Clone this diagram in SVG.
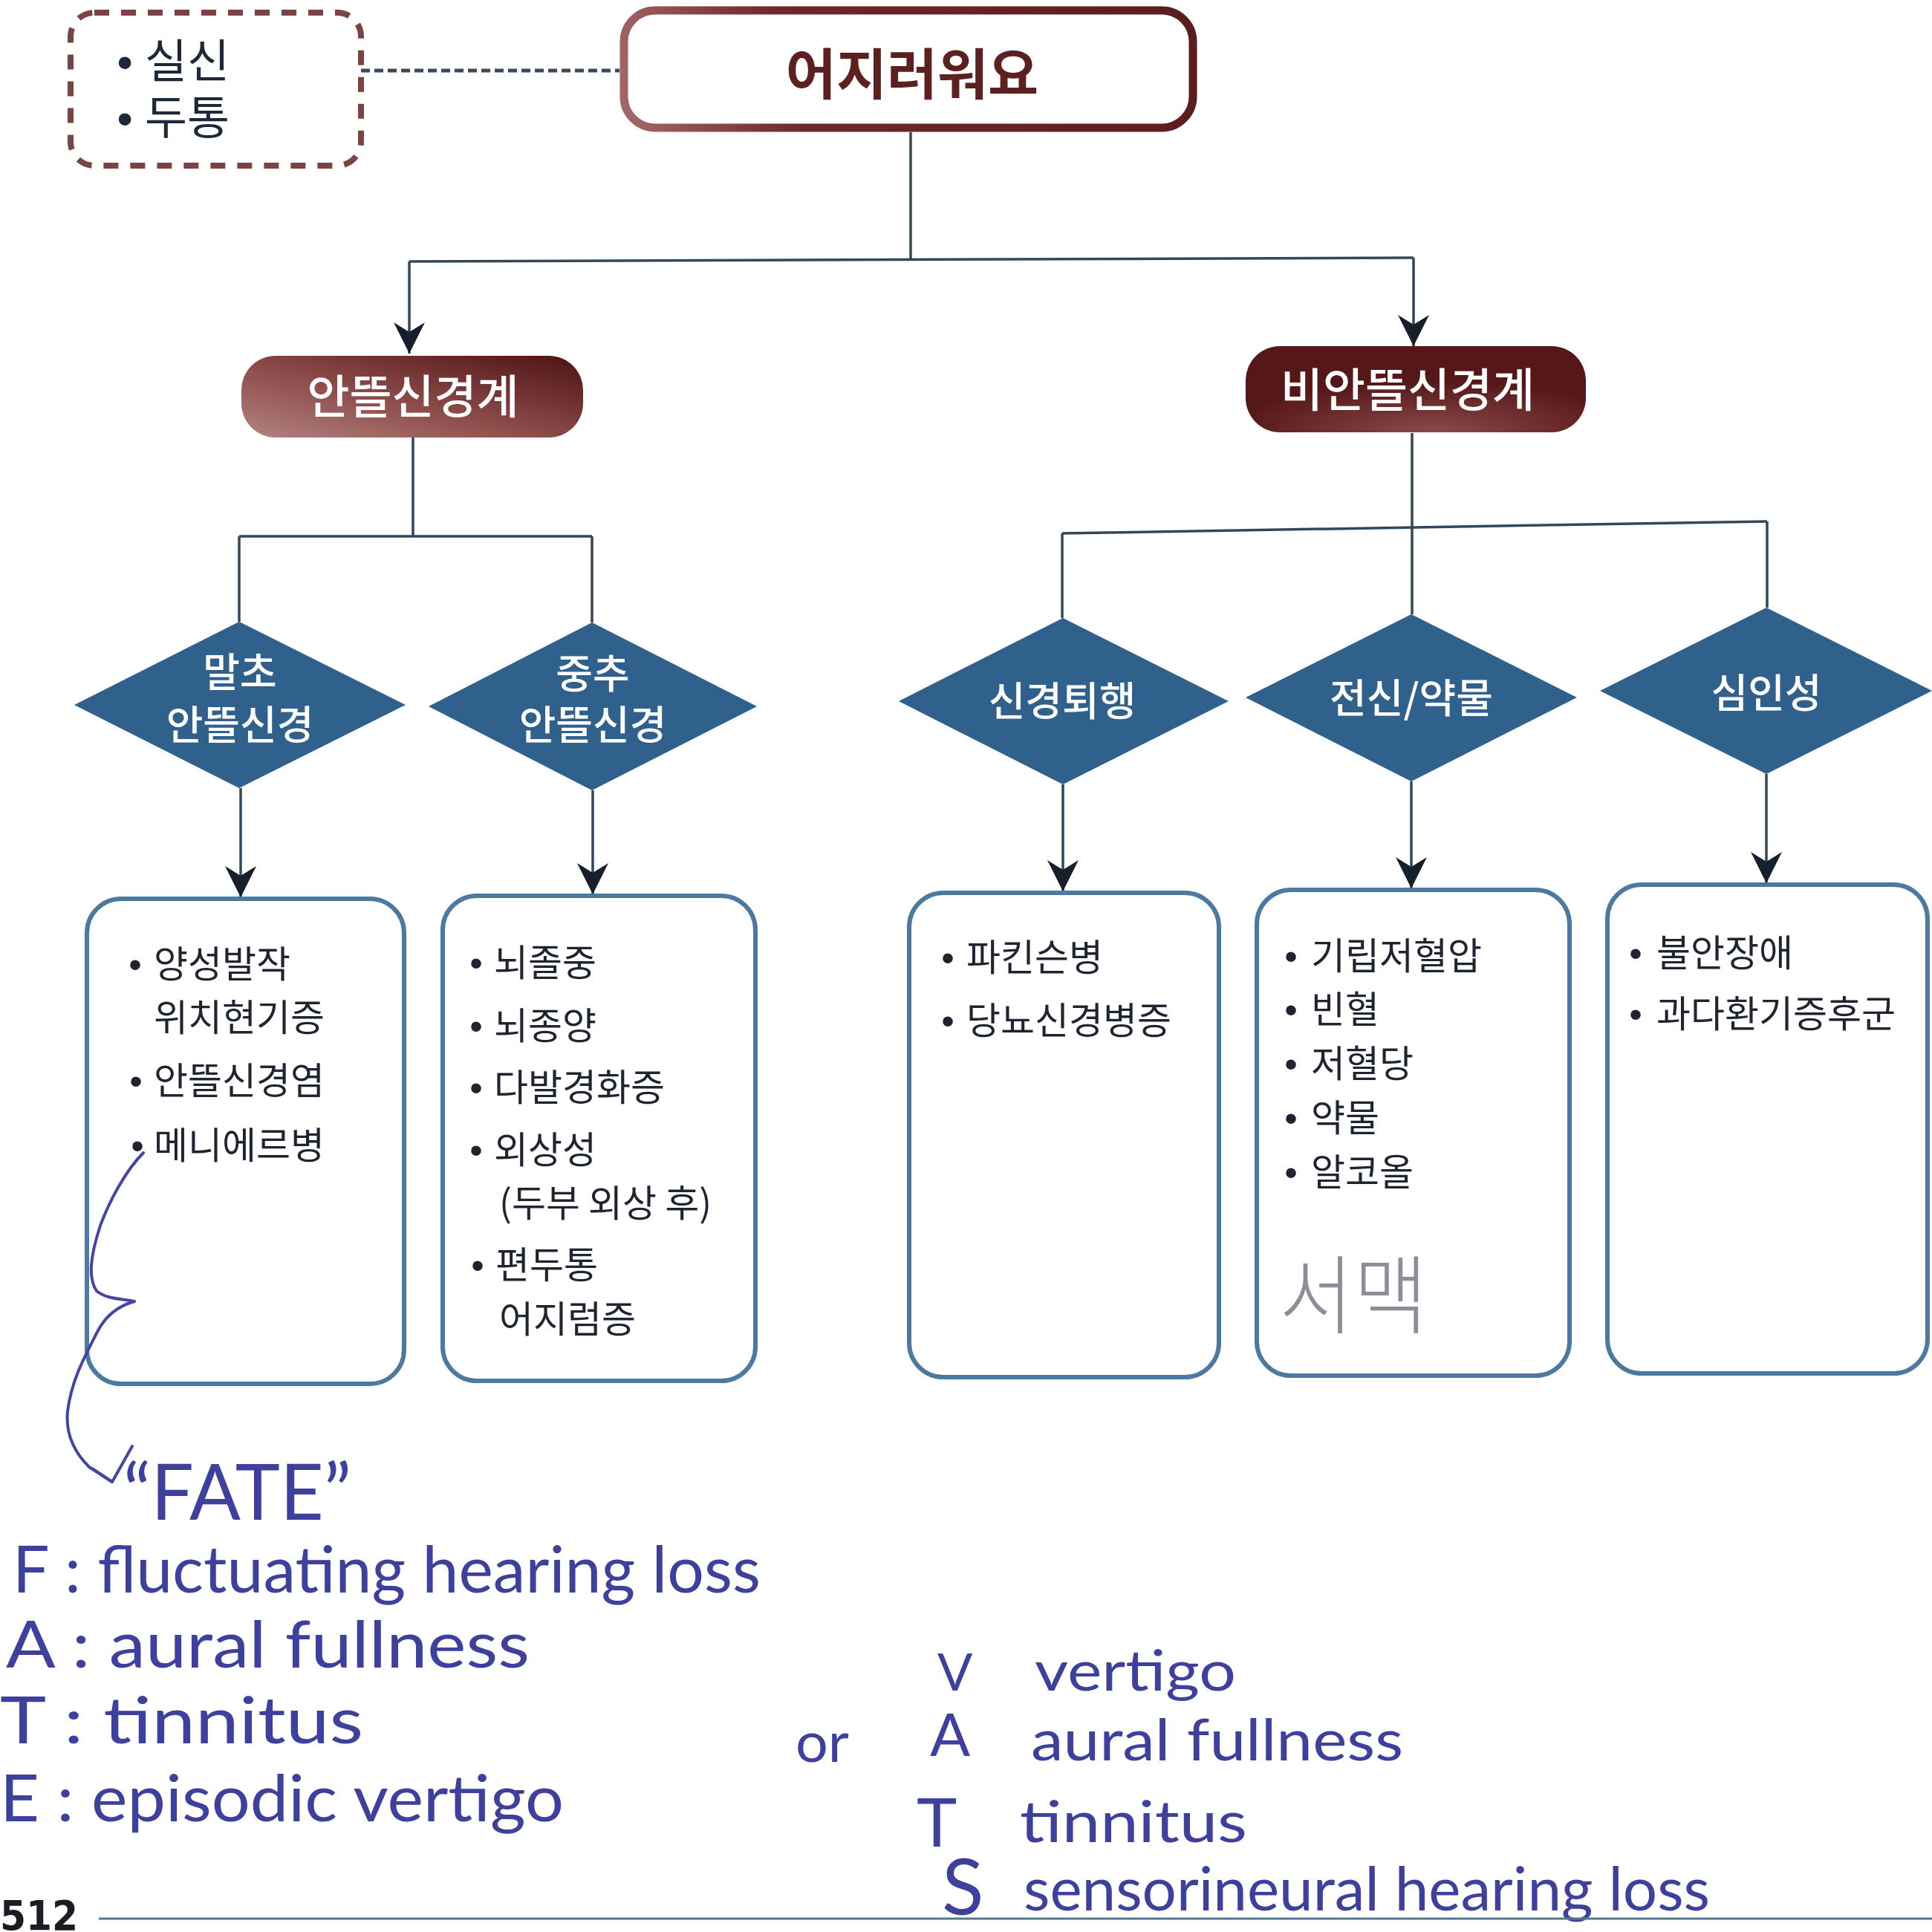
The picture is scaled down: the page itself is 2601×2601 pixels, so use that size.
<svg xmlns="http://www.w3.org/2000/svg" width="2601" height="2601" viewBox="0 0 2601 2601">
<defs>
<style>
.kr{font-family:"Noto Sans CJK KR","Noto Sans",sans-serif;}
.lbl{font-family:"Noto Sans CJK KR","Noto Sans",sans-serif;font-size:50px;fill:#1f2530;}
.bul{font-family:"Liberation Sans",sans-serif;}
.dia{fill:#2f618c;}
.dtx{font-family:"Noto Sans CJK KR","Noto Sans",sans-serif;font-size:54px;font-weight:500;fill:#ffffff;text-anchor:middle;}
.box{fill:#ffffff;stroke:#4b79a0;stroke-width:6;}
.con{fill:none;stroke:#33475a;stroke-width:3.5;}
.hw{font-family:"Lato","Open Sans",sans-serif;fill:#3d409c;}
.ink{fill:none;stroke:#4346a3;stroke-width:4;stroke-linecap:round;stroke-linejoin:round;}
</style>
<marker id="ah" markerUnits="userSpaceOnUse" viewBox="0 0 44 44" markerWidth="44" markerHeight="44" refX="42" refY="22" orient="auto">
<path d="M0,1 L42,22 L0,43 L13,22 Z" fill="#16202c"/>
</marker>
<linearGradient id="gMain" gradientUnits="userSpaceOnUse" x1="834" y1="178" x2="1611" y2="8">
<stop offset="0" stop-color="#a66a6a"/>
<stop offset="0.3" stop-color="#6e2828"/>
<stop offset="1" stop-color="#5a1c1c"/>
</linearGradient>
<linearGradient id="gL" x1="0" y1="1" x2="1" y2="0">
<stop offset="0" stop-color="#b4827f"/>
<stop offset="0.45" stop-color="#8c4c4a"/>
<stop offset="1" stop-color="#4c1212"/>
</linearGradient>
<radialGradient id="gR" cx="0.55" cy="1" r="0.6">
<stop offset="0" stop-color="#8a4a4a"/>
<stop offset="1" stop-color="#561718"/>
</radialGradient>
</defs>
<rect width="2601" height="2601" fill="#ffffff"/>

<g id="connectors">
<line x1="486" y1="95" x2="834" y2="95" stroke="#3a4a5a" stroke-width="5" stroke-dasharray="12 6"/>
<path class="con" d="M1226,178 L1226,350"/>
<path class="con" d="M551,352 L1903,347"/>
<path class="con" d="M551,352 L551,476" marker-end="url(#ah)"/>
<path class="con" d="M1903,347 L1903,466" marker-end="url(#ah)"/>
<path class="con" d="M556,589 L556,722"/>
<path class="con" d="M322,722 L797,722"/>
<path class="con" d="M322,722 L322,837"/>
<path class="con" d="M797,722 L797,838"/>
<path class="con" d="M1901,583 L1901,711"/>
<path class="con" d="M1430,718 L2379,702"/>
<path class="con" d="M1430,718 L1430,832"/>
<path class="con" d="M1901,711 L1901,827"/>
<path class="con" d="M2379,702 L2379,818"/>
<path class="con" d="M324,1061 L324,1208" marker-end="url(#ah)"/>
<path class="con" d="M798,1064 L798,1204" marker-end="url(#ah)"/>
<path class="con" d="M1431,1056 L1431,1200" marker-end="url(#ah)"/>
<path class="con" d="M1900,1052 L1900,1196" marker-end="url(#ah)"/>
<path class="con" d="M2378,1042 L2378,1189" marker-end="url(#ah)"/>
</g>

<g id="note-box">
<rect x="95" y="17" width="391" height="206" rx="32" fill="none" stroke="#7a4444" stroke-width="8" stroke-dasharray="20 16"/>
<text class="kr" font-size="62" fill="#1d2838"><tspan class="bul" x="168" y="105" text-anchor="middle">•</tspan><tspan x="195" y="105">실신</tspan></text>
<text class="kr" font-size="62" fill="#1d2838"><tspan class="bul" x="168" y="181" text-anchor="middle">•</tspan><tspan x="195" y="181">두통</tspan></text>
</g>

<g id="main">
<rect x="840" y="14" width="766" height="158" rx="42" fill="#ffffff" stroke="url(#gMain)" stroke-width="11"/>
<text class="kr" x="1228" y="127" font-size="74" font-weight="700" fill="#5c2020" text-anchor="middle">어지러워요</text>
</g>

<g id="vestibular">
<rect x="325" y="479" width="460" height="110" rx="46" fill="url(#gL)"/>
<text class="kr" x="556" y="557" font-size="62" font-weight="500" fill="#ffffff" text-anchor="middle">안뜰신경계</text>
</g>

<g id="non-vestibular">
<rect x="1677" y="466" width="458" height="116" rx="46" fill="url(#gR)"/>
<text class="kr" x="1895" y="548" font-size="62" font-weight="500" fill="#ffffff" text-anchor="middle">비안뜰신경계</text>
</g>

<g id="d-peripheral">
<polygon class="dia" points="322,837 546,949 322,1061 100,949"/>
<text class="dtx" x="323" y="925">말초</text>
<text class="dtx" x="323" y="996">안뜰신경</text>
</g>
<g id="d-central">
<polygon class="dia" points="797,838 1019,951 797,1064 577,951"/>
<text class="dtx" x="798" y="927">중추</text>
<text class="dtx" x="798" y="996">안뜰신경</text>
</g>
<g id="d-neuro">
<polygon class="dia" points="1431,832 1654,944 1431,1056 1210,944"/>
<text class="dtx" x="1430" y="964">신경퇴행</text>
</g>
<g id="d-systemic">
<polygon class="dia" points="1900,827 2123,939 1900,1052 1677,939"/>
<text class="dtx" x="1900" y="960">전신/약물</text>
</g>
<g id="d-psych">
<polygon class="dia" points="2378,818 2601,930 2378,1042 2154,930"/>
<text class="dtx" x="2378" y="953">심인성</text>
</g>

<g id="b-peripheral">
<rect class="box" x="117" y="1210" width="427" height="653" rx="46"/>
<text class="lbl"><tspan class="bul" x="182" y="1316" text-anchor="middle">•</tspan><tspan x="207" y="1316">양성발작</tspan></text>
<text class="lbl" x="207" y="1388">위치현기증</text>
<text class="lbl"><tspan class="bul" x="183" y="1473" text-anchor="middle">•</tspan><tspan x="207" y="1473">안뜰신경염</tspan></text>
<text class="lbl"><tspan class="bul" x="185" y="1560" text-anchor="middle">•</tspan><tspan x="207" y="1560">메니에르병</tspan></text>
</g>

<g id="b-central">
<rect class="box" x="596" y="1206" width="421" height="653" rx="46"/>
<text class="lbl"><tspan class="bul" x="641" y="1314" text-anchor="middle">•</tspan><tspan x="665" y="1314">뇌졸중</tspan></text>
<text class="lbl"><tspan class="bul" x="641" y="1399" text-anchor="middle">•</tspan><tspan x="665" y="1399">뇌종양</tspan></text>
<text class="lbl"><tspan class="bul" x="641" y="1482" text-anchor="middle">•</tspan><tspan x="665" y="1482">다발경화증</tspan></text>
<text class="lbl"><tspan class="bul" x="641" y="1566" text-anchor="middle">•</tspan><tspan x="665" y="1566">외상성</tspan></text>
<text class="lbl" x="672" y="1638">(두부 외상 후)</text>
<text class="lbl"><tspan class="bul" x="643" y="1721" text-anchor="middle">•</tspan><tspan x="667" y="1721">편두통</tspan></text>
<text class="lbl" x="672" y="1794">어지럼증</text>
</g>

<g id="b-neuro">
<rect class="box" x="1224" y="1202" width="417" height="652" rx="46"/>
<text class="lbl"><tspan class="bul" x="1276" y="1307" text-anchor="middle">•</tspan><tspan x="1301" y="1307">파킨슨병</tspan></text>
<text class="lbl"><tspan class="bul" x="1276" y="1392" text-anchor="middle">•</tspan><tspan x="1301" y="1392">당뇨신경병증</tspan></text>
</g>

<g id="b-systemic">
<rect class="box" x="1692" y="1198" width="421" height="654" rx="46"/>
<text class="lbl"><tspan class="bul" x="1738" y="1305" text-anchor="middle">•</tspan><tspan x="1765" y="1305">기립저혈압</tspan></text>
<text class="lbl"><tspan class="bul" x="1738" y="1377" text-anchor="middle">•</tspan><tspan x="1765" y="1377">빈혈</tspan></text>
<text class="lbl"><tspan class="bul" x="1738" y="1450" text-anchor="middle">•</tspan><tspan x="1765" y="1450">저혈당</tspan></text>
<text class="lbl"><tspan class="bul" x="1738" y="1523" text-anchor="middle">•</tspan><tspan x="1765" y="1523">약물</tspan></text>
<text class="lbl"><tspan class="bul" x="1738" y="1596" text-anchor="middle">•</tspan><tspan x="1765" y="1596">알코올</tspan></text>
<text class="kr" x="1722" y="1786" font-size="115" font-weight="300" fill="#8a8f97" textLength="200" lengthAdjust="spacingAndGlyphs">서맥</text>
</g>

<g id="b-psych">
<rect class="box" x="2164" y="1191" width="431" height="658" rx="46"/>
<text class="lbl"><tspan class="bul" x="2202" y="1301" text-anchor="middle">•</tspan><tspan x="2230" y="1301">불안장애</tspan></text>
<text class="lbl"><tspan class="bul" x="2202" y="1383" text-anchor="middle">•</tspan><tspan x="2230" y="1383">과다환기증후군</tspan></text>
</g>

<g id="annotations">
<path class="ink" d="M193,1552 C170,1575 148,1615 135,1650 C122,1690 118,1720 130,1738 C145,1750 165,1748 181,1752 C160,1758 142,1770 130,1795 C112,1830 96,1860 91,1900 C88,1930 100,1955 120,1975 L151,1995 L178,1947"/>
<path class="ink" d="M124,1977 L151,1995"/>
<text class="hw" x="166" y="2046" font-size="105" textLength="307" lengthAdjust="spacingAndGlyphs">“FATE”</text>
<text class="hw" x="17" y="2144" font-size="88" textLength="1007" lengthAdjust="spacingAndGlyphs">F : fluctuating hearing loss</text>
<text class="hw" x="8" y="2245" font-size="88" textLength="705" lengthAdjust="spacingAndGlyphs">A : aural fullness</text>
<text class="hw" x="0" y="2347" font-size="88" textLength="489" lengthAdjust="spacingAndGlyphs">T : tinnitus</text>
<text class="hw" x="0" y="2452" font-size="88" textLength="759" lengthAdjust="spacingAndGlyphs">E : episodic vertigo</text>
<text class="hw" x="1071" y="2372" font-size="75" textLength="72" lengthAdjust="spacingAndGlyphs">or</text>
<text class="hw" x="1262" y="2276" font-size="70">V</text>
<text class="hw" x="1393" y="2276" font-size="76" textLength="271" lengthAdjust="spacingAndGlyphs">vertigo</text>
<text class="hw" x="1252" y="2364" font-size="80">A</text>
<text class="hw" x="1388" y="2370" font-size="78" textLength="501" lengthAdjust="spacingAndGlyphs">aural fullness</text>
<text class="hw" x="1234" y="2486" font-size="92">T</text>
<text class="hw" x="1373" y="2480" font-size="78" textLength="306" lengthAdjust="spacingAndGlyphs">tinnitus</text>
<text class="hw" x="1268" y="2578" font-size="104">S</text>
<text class="hw" x="1378" y="2572" font-size="82" textLength="924" lengthAdjust="spacingAndGlyphs">sensorineural hearing loss</text>
</g>

<g id="page-footer">
<line x1="133" y1="2583" x2="2601" y2="2583" stroke="#56788c" stroke-width="3"/>
<text x="0" y="2598" font-family="Liberation Sans Narrow, DejaVu Sans Condensed, sans-serif" font-size="56" font-weight="700" fill="#1a1d22">512</text>
</g>
</svg>
